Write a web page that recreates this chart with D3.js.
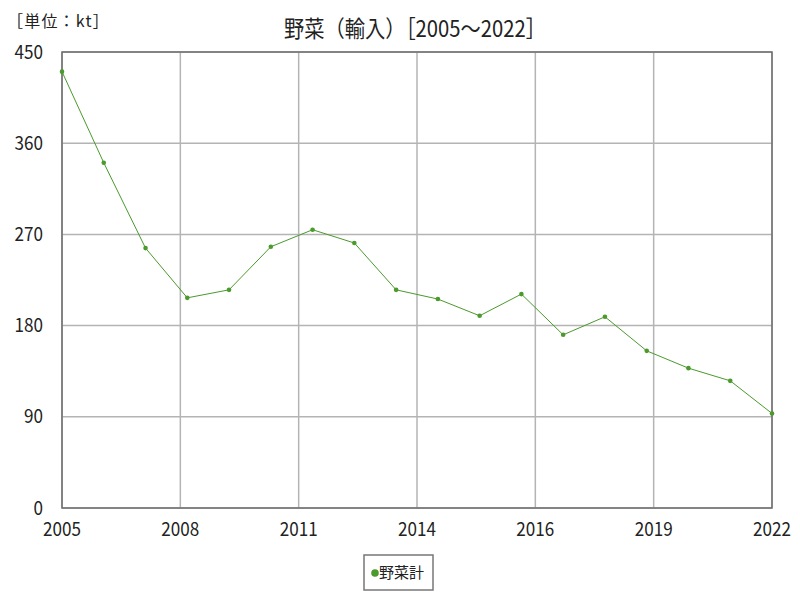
<!DOCTYPE html>
<html>
<head>
<meta charset="utf-8">
<script src="https://cdn.jsdelivr.net/npm/d3@7"></script>
<style>
  body { margin: 0; background: #fff; }
  text { font-family: "Noto Sans CJK JP", "DejaVu Sans", sans-serif; fill: #222; }
</style>
</head>
<body>
<div id="chart"></div>
<script>
// data
var years = [2005, 2006, 2007, 2008, 2009, 2010, 2011, 2012, 2013, 2014,
             2015, 2016, 2017, 2018, 2019, 2020, 2021, 2022];
var vegTotal = [430.6, 340.7, 256.5, 207.4, 215.3, 257.8, 274.6, 261.5, 215.3, 206.2,
                189.7, 211.1, 170.9, 188.7, 155.1, 138.0, 125.5, 93.3];
var yTicks = [0, 90, 180, 270, 360, 450];
var xTickLabels = ["2005", "2008", "2011", "2014", "2016", "2019", "2022"];
var seriesName = "野菜計";
var titleText = "野菜（輸入）［2005～2022］";
var unitText = "［単位：kt］";

var W = 800, H = 600;
var margin = { top: 52, right: 28, bottom: 92, left: 62 };
var width = W - margin.left - margin.right;
var height = H - margin.top - margin.bottom;
var green = "#4a9a2c";
var squeeze = 0.9;

var svg = d3.select("#chart").append("svg")
    .attr("width", W)
    .attr("height", H);

var g = svg.append("g")
    .attr("transform", "translate(" + margin.left + "," + margin.top + ")");

var x = d3.scaleLinear()
    .domain(d3.extent(years))
    .range([0, width]);

var y = d3.scaleLinear()
    .domain([0, 450])
    .range([height, 0]);

// x gridlines sit at sixths of the span, labels are rounded years
var xGrid = d3.range(0, 7).map(function (i) { return x.invert(width * i / 6); });

// grid
g.append("g").selectAll("line.h")
    .data(yTicks)
    .enter().append("line")
    .attr("x1", 0).attr("x2", width)
    .attr("y1", function (d) { return y(d); })
    .attr("y2", function (d) { return y(d); })
    .attr("stroke", "#b4b4b4")
    .attr("stroke-width", 1.5);

g.append("g").selectAll("line.v")
    .data(xGrid)
    .enter().append("line")
    .attr("x1", function (d) { return x(d); })
    .attr("x2", function (d) { return x(d); })
    .attr("y1", 0).attr("y2", height)
    .attr("stroke", "#b4b4b4")
    .attr("stroke-width", 1.5);

// frame
g.append("rect")
    .attr("x", 0).attr("y", 0)
    .attr("width", width).attr("height", height)
    .attr("fill", "none")
    .attr("stroke", "#6e6e6e")
    .attr("stroke-width", 1.5);

// y tick labels
g.append("g").selectAll("text")
    .data(yTicks)
    .enter().append("text")
    .attr("transform", function (d) { return "translate(-19," + y(d) + ") scale(" + squeeze + ",1)"; })
    .attr("text-anchor", "end")
    .attr("dy", "0.35em")
    .attr("font-size", 19)
    .text(function (d) { return d; });

// x tick labels
g.append("g").selectAll("text")
    .data(xGrid)
    .enter().append("text")
    .attr("transform", function (d) { return "translate(" + x(d) + "," + (height + 21) + ") scale(" + squeeze + ",1)"; })
    .attr("text-anchor", "middle")
    .attr("dy", "0.35em")
    .attr("font-size", 19)
    .text(function (d, i) { return xTickLabels[i]; });

// series
var pts = years.map(function (yr, i) { return { year: yr, value: vegTotal[i] }; });

var line = d3.line()
    .x(function (d) { return x(d.year); })
    .y(function (d) { return y(d.value); });

g.append("path")
    .datum(pts)
    .attr("fill", "none")
    .attr("stroke", green)
    .attr("stroke-width", 1)
    .attr("d", line);

g.append("g").selectAll("circle")
    .data(pts)
    .enter().append("circle")
    .attr("cx", function (d) { return x(d.year); })
    .attr("cy", function (d) { return y(d.value); })
    .attr("r", 2.3)
    .attr("fill", green);

// title + unit
svg.append("text")
    .attr("transform", "translate(415,29) scale(0.88,1)")
    .attr("text-anchor", "middle")
    .attr("dy", "0.35em")
    .attr("font-size", 23)
    .text(titleText);

svg.append("text")
    .attr("transform", "translate(7,21)")
    .attr("dy", "0.35em")
    .attr("font-size", 16)
    .attr("letter-spacing", 1.2)
    .text(unitText);

// legend
var legend = svg.append("g").attr("transform", "translate(364,555)");
legend.append("rect")
    .attr("width", 69).attr("height", 35)
    .attr("fill", "#fff")
    .attr("stroke", "#777")
    .attr("stroke-width", 1.5);
legend.append("circle")
    .attr("cx", 11).attr("cy", 18).attr("r", 3.8)
    .attr("fill", green);
legend.append("text")
    .attr("transform", "translate(15,18)")
    .attr("dy", "0.35em")
    .attr("font-size", 15)
    .text(seriesName);
</script>
</body>
</html>
